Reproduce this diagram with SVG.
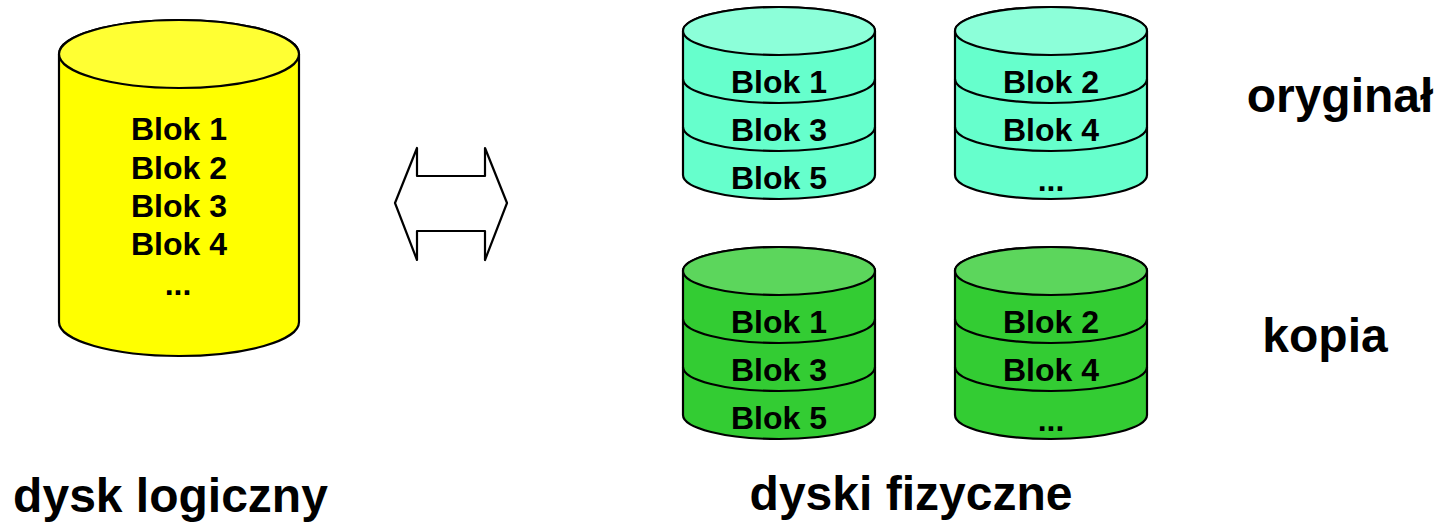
<svg xmlns="http://www.w3.org/2000/svg" width="1437" height="522" viewBox="0 0 1437 522">
<style>
text{font-family:"Liberation Sans",Arial,sans-serif;font-weight:bold;fill:#000;text-anchor:middle}
.b{font-size:32px}
.l{font-size:48px}
.s{stroke:#000;stroke-width:2.2;stroke-linejoin:round}
.n{fill:none}
.aq{fill:#66ffcc}.aqt{fill:#8cffd9}
.gr{fill:#33cc33}.grt{fill:#5cd65c}
</style>
<defs>
<g id="disk-lines">
<path class="s n" d="M0 48A96 24 0 0 0 192 48M0 96A96 24 0 0 0 192 96"/>
</g>
<path id="body" d="M0 0V144A96 24 0 0 0 192 144V0A96 24 0 0 0 0 0Z"/>
<ellipse id="cap" cx="96" cy="0" rx="96" ry="24"/>
</defs>
<rect width="1437" height="522" fill="#fff"/>
<g id="logical-disk">
<path class="s" fill="#ffff00" d="M59 54V322A120 34 0 0 0 299 322V54A120 34 0 0 0 59 54Z"/>
<ellipse class="s" fill="#ffff33" cx="179" cy="54" rx="120" ry="34"/>
<text class="b" x="179" y="140">Blok 1</text>
<text class="b" x="179" y="179">Blok 2</text>
<text class="b" x="179" y="217">Blok 3</text>
<text class="b" x="179" y="255">Blok 4</text>
<text class="b" x="178" y="295">...</text>
</g>
<g id="connectors">
<path class="s" fill="#fff" d="M395 203L417 148V176H485V148L507 203L485 260V231H417V260Z"/>
</g>
<g id="disk-orig-1" transform="translate(683 31)">
<use href="#body" class="s aq"/><use href="#cap" class="s aqt"/><use href="#disk-lines"/>
<text class="b" x="96" y="62">Blok 1</text><text class="b" x="96" y="110">Blok 3</text><text class="b" x="96" y="158">Blok 5</text>
</g>
<g id="disk-orig-2" transform="translate(955 31)">
<use href="#body" class="s aq"/><use href="#cap" class="s aqt"/><use href="#disk-lines"/>
<text class="b" x="96" y="62">Blok 2</text><text class="b" x="96" y="110">Blok 4</text><text class="b" x="96" y="160">...</text>
</g>
<g id="disk-copy-1" transform="translate(683 271)">
<use href="#body" class="s gr"/><use href="#cap" class="s grt"/><use href="#disk-lines"/>
<text class="b" x="96" y="62">Blok 1</text><text class="b" x="96" y="110">Blok 3</text><text class="b" x="96" y="158">Blok 5</text>
</g>
<g id="disk-copy-2" transform="translate(955 271)">
<use href="#body" class="s gr"/><use href="#cap" class="s grt"/><use href="#disk-lines"/>
<text class="b" x="96" y="62">Blok 2</text><text class="b" x="96" y="110">Blok 4</text><text class="b" x="96" y="160">...</text>
</g>
<text class="l" x="1340" y="112">oryginał</text>
<text class="l" x="1325" y="352">kopia</text>
<text class="l" x="170.5" y="511.5">dysk logiczny</text>
<text class="l" x="911" y="510">dyski fizyczne</text>
</svg>
